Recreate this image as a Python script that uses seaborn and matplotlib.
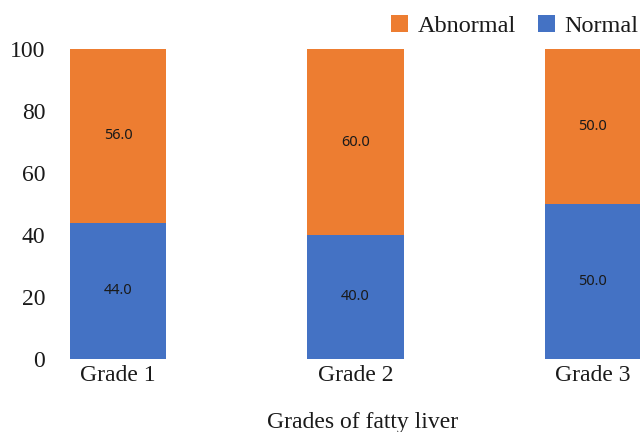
import numpy as np
import pandas as pd
import matplotlib.pyplot as plt
import seaborn as sns

plt.switch_backend('Agg')

# data
grades = ['Grade 1', 'Grade 2', 'Grade 3']
normal = [44.0, 40.0, 50.0]
abnormal = [56.0, 60.0, 50.0]

df = pd.DataFrame({'grade': grades, 'Normal': normal, 'Abnormal': abnormal})

sns.set_style('white')
plt.rcParams['font.family'] = ['Liberation Serif', 'DejaVu Serif']

fig = plt.figure(figsize=(6.4, 4.32), dpi=100)
ax = fig.add_axes([55 / 640, 1 - 359 / 432, 585 / 640, 310 / 432])

# stacked bars: normal at the bottom, abnormal on top
sns.barplot(data=df, x='grade', y='Normal', color='#4472C4', width=0.405,
            saturation=1, ax=ax, label='Normal', linewidth=0)
sns.barplot(data=df, x='grade', y='Abnormal', color='#ED7D31', width=0.405,
            saturation=1, ax=ax, bottom=df['Normal'].values, label='Abnormal',
            linewidth=0)

for cont in ax.containers:
    ax.bar_label(cont, fmt='%.1f', label_type='center', fontsize=10.5,
                 family='Noto Sans', color='#1a1a1a')

ax.set_xlim(-0.265, 2.198)
ax.set_ylim(0, 100)
ax.set_yticks(np.arange(0, 101, 20))
ax.tick_params(axis='both', length=0, labelsize=17, colors='#1a1a1a')
ax.tick_params(axis='y', pad=7)
ax.tick_params(axis='x', pad=4)
sns.despine(ax=ax, left=True, bottom=True)

ax.set_ylabel('')
ax.set_xlabel('Grades of fatty liver', fontsize=17, color='#1a1a1a')
ax.xaxis.set_label_coords(0.526, -0.17)

handles, labels = ax.get_legend_handles_labels()
order = [labels.index('Abnormal'), labels.index('Normal')]
fig.legend([handles[i] for i in order], [labels[i] for i in order],
           loc='upper right', bbox_to_anchor=(1.032, 1.016), ncol=2, frameon=False,
           fontsize=17.5, handlelength=0.7, handleheight=0.7, handletextpad=0.4,
           columnspacing=0.9, labelcolor='#1a1a1a')
if ax.get_legend() is not None:
    ax.get_legend().remove()

plt.savefig('out.png', dpi=100)
